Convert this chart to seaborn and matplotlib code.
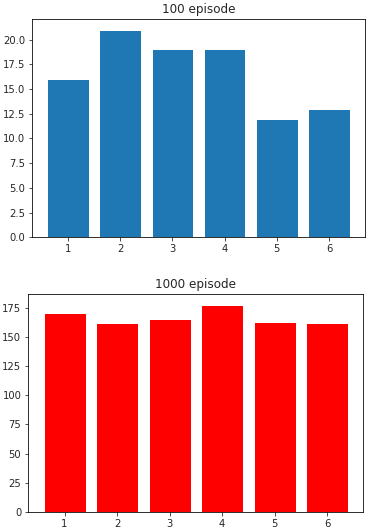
import matplotlib
matplotlib.use('Agg')
import matplotlib.pyplot as plt
import seaborn as sns
import pandas as pd

# action counts per run
actions = [1, 2, 3, 4, 5, 6]
counts_100 = [16, 21, 19, 19, 12, 13]
counts_1000 = [171, 162, 166, 178, 163, 162]

df100 = pd.DataFrame({"action": actions, "count": counts_100})
df1000 = pd.DataFrame({"action": actions, "count": counts_1000})

sns.set_style("ticks")
plt.rcParams['font.family'] = ['DejaVu Sans']

fig, axes = plt.subplots(2, 1, figsize=(370 / 72, 530 / 72), dpi=72)

sns.barplot(data=df100, x="action", y="count", color="#1f77b4", saturation=1,
            width=0.8, ax=axes[0])
axes[0].set_title("100 episode")

sns.barplot(data=df1000, x="action", y="count", color="red", saturation=1,
            width=0.8, ax=axes[1])
axes[1].set_title("1000 episode")

for ax in axes:
    ax.set_xlim(-0.69, 5.69)
    ax.set_xlabel("")
    ax.set_ylabel("")
    for s in ax.spines.values():
        s.set_visible(True)
        s.set_color("black")
        s.set_linewidth(0.8)

axes[0].set_ylim(0, 22.05)
axes[0].set_yticks([0, 2.5, 5, 7.5, 10, 12.5, 15, 17.5, 20])
axes[0].set_yticklabels(["0.0", "2.5", "5.0", "7.5", "10.0", "12.5", "15.0", "17.5", "20.0"])
axes[1].set_ylim(0, 186.9)
axes[1].set_yticks([0, 25, 50, 75, 100, 125, 150, 175])

# place axes like the original (pixel-measured)
axes[0].set_position([0.0865, 0.5523, 0.900, 0.4113])
axes[1].set_position([0.0765, 0.0345, 0.9054, 0.4102])

fig.savefig("out.png", dpi=72)
